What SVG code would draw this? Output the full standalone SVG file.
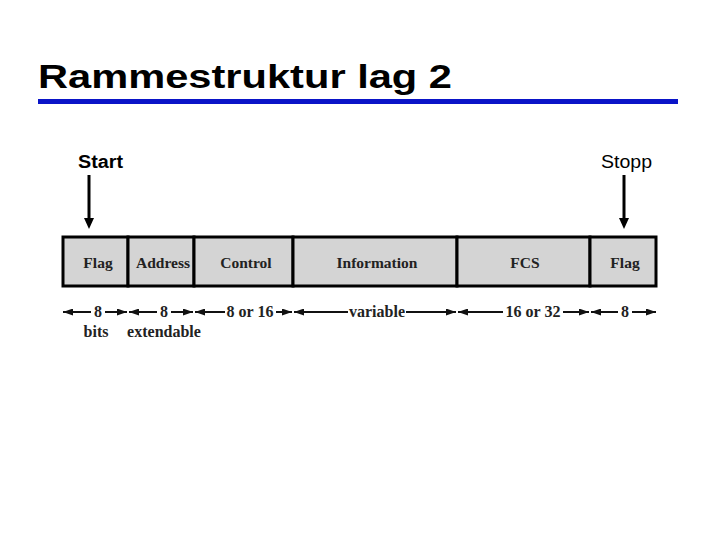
<svg xmlns="http://www.w3.org/2000/svg" width="720" height="540" viewBox="0 0 720 540">
<defs>
<marker id="ah" viewBox="0 0 10 7" refX="10" refY="3.5" markerWidth="11" markerHeight="7" markerUnits="userSpaceOnUse" orient="auto-start-reverse">
<path d="M0,0 L10,3.5 L0,7 Z" fill="#111"/>
</marker>
<style>
.title{font-family:"Liberation Sans",Arial,sans-serif;font-weight:bold;font-size:34px;fill:#000}
.lbl{font-family:"Liberation Sans",Arial,sans-serif;font-size:18px;fill:#000}
.field{font-family:"Liberation Serif","Times New Roman",serif;font-weight:bold;font-size:15.5px;fill:#222;text-anchor:middle}
.dimt{font-family:"Liberation Serif","Times New Roman",serif;font-weight:bold;font-size:16px;fill:#222;text-anchor:middle}
.cell{fill:#d4d4d4;stroke:#000;stroke-width:3}
.dim{stroke:#111;stroke-width:2;fill:none;marker-start:url(#ah);marker-end:url(#ah)}
.pt{stroke:#000;stroke-width:3;fill:none}
</style>
</defs>
<rect width="720" height="540" fill="#fff"/>
<text class="title" x="38" y="88" textLength="414" lengthAdjust="spacingAndGlyphs">Rammestruktur lag 2</text>
<rect x="38" y="99" width="640" height="5" fill="#0a14c8"/>

<g id="start">
<text class="lbl" x="78" y="168" font-weight="bold" textLength="45" lengthAdjust="spacingAndGlyphs">Start</text>
</g>
<g id="stopp">
<text class="lbl" x="601" y="168" textLength="51" lengthAdjust="spacingAndGlyphs">Stopp</text>
</g>

<g id="frame">
<g id="flag1"><rect class="cell" x="63" y="237" width="65" height="49"/><text class="field" x="98" y="268">Flag</text></g>
<g id="address"><rect class="cell" x="128" y="237" width="66" height="49"/><text class="field" x="163" y="268">Address</text></g>
<g id="control"><rect class="cell" x="194" y="237" width="99" height="49"/><text class="field" x="246" y="268">Control</text></g>
<g id="information"><rect class="cell" x="293" y="237" width="164" height="49"/><text class="field" x="377" y="268">Information</text></g>
<g id="fcs"><rect class="cell" x="457" y="237" width="133" height="49"/><text class="field" x="525" y="268">FCS</text></g>
<g id="flag2"><rect class="cell" x="590" y="237" width="66" height="49"/><text class="field" x="625" y="268">Flag</text></g>
</g>

<g id="connectors">
<line class="pt" x1="89" y1="175" x2="89" y2="220"/>
<path d="M84,218 L94,218 L89,229 Z" fill="#000"/>
<line class="pt" x1="624" y1="175" x2="624" y2="220"/>
<path d="M619,218 L629,218 L624,229 Z" fill="#000"/>

<line class="dim" x1="63" y1="312" x2="91" y2="312" style="marker-end:none"/>
<line class="dim" x1="105" y1="312" x2="127" y2="312" style="marker-start:none"/>
<line class="dim" x1="129" y1="312" x2="157" y2="312" style="marker-end:none"/>
<line class="dim" x1="171" y1="312" x2="193" y2="312" style="marker-start:none"/>
<line class="dim" x1="195" y1="312" x2="225" y2="312" style="marker-end:none"/>
<line class="dim" x1="276" y1="312" x2="292" y2="312" style="marker-start:none"/>
<line class="dim" x1="294" y1="312" x2="348" y2="312" style="marker-end:none"/>
<line class="dim" x1="406" y1="312" x2="456" y2="312" style="marker-start:none"/>
<line class="dim" x1="458" y1="312" x2="503" y2="312" style="marker-end:none"/>
<line class="dim" x1="563" y1="312" x2="589" y2="312" style="marker-start:none"/>
<line class="dim" x1="591" y1="312" x2="618" y2="312" style="marker-end:none"/>
<line class="dim" x1="632" y1="312" x2="656" y2="312" style="marker-start:none"/>
</g>

<g id="dims">
<text class="dimt" x="98" y="317">8</text>
<text class="dimt" x="164" y="317">8</text>
<text class="dimt" x="250" y="317">8 or 16</text>
<text class="dimt" x="377" y="317">variable</text>
<text class="dimt" x="533" y="317">16 or 32</text>
<text class="dimt" x="625" y="317">8</text>
<text class="dimt" x="96" y="337">bits</text>
<text class="dimt" x="164" y="337">extendable</text>
</g>
</svg>
